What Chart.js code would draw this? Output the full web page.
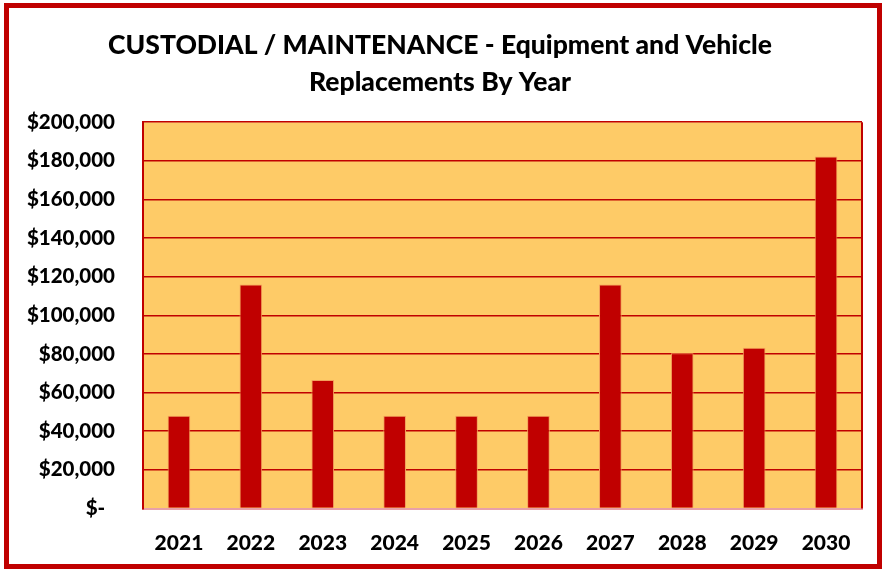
<!DOCTYPE html>
<html>
<head>
<meta charset="utf-8">
<script src="https://cdn.jsdelivr.net/npm/chart.js@4"></script>
<style>
html,body{margin:0;padding:0;background:#fff;}
#wrap{width:884px;height:571px;position:relative;}
</style>
</head>
<body>
<div id="wrap"><canvas id="c" width="884" height="571"></canvas></div>
<script>
const titleLines = ["CUSTODIAL / MAINTENANCE - Equipment and Vehicle", "Replacements By Year"];
const years = ["2021","2022","2023","2024","2025","2026","2027","2028","2029","2030"];
const replacements = [48000, 116000, 66500, 48000, 48000, 48000, 116000, 80400, 83200, 182300];
const yMin = 0, yMax = 200000, yStep = 20000;

const FONT = "Lato, 'Liberation Sans', sans-serif";
const W = '900';

const decor = {
  id: 'decor',
  beforeDraw(chart) {
    const {ctx, chartArea: a} = chart;
    ctx.save();
    ctx.fillStyle = '#FFFFFF';
    ctx.fillRect(0, 0, chart.width, chart.height);
    ctx.fillStyle = '#FECB67';
    ctx.fillRect(a.left, a.top, a.right - a.left, a.bottom - a.top);
    ctx.restore();
  },
  afterDraw(chart) {
    const {ctx, chartArea: a} = chart;
    ctx.save();
    ctx.strokeStyle = '#C00000';
    ctx.lineWidth = 2;
    ctx.beginPath();
    ctx.moveTo(a.right, a.top);
    ctx.lineTo(a.right, a.bottom);
    ctx.stroke();
    ctx.lineWidth = 5;
    ctx.strokeRect(6.5, 5.5, chart.width - 11, chart.height - 10);
    ctx.restore();
  }
};

new Chart(document.getElementById('c'), {
  type: 'bar',
  data: {
    labels: years,
    datasets: [{
      data: replacements,
      backgroundColor: '#C00000',
      borderColor: '#F2A05C',
      borderWidth: 1,
      barPercentage: 0.63,
      categoryPercentage: 0.5
    }]
  },
  options: {
    responsive: false,
    animation: false,
    devicePixelRatio: 1,
    layout: { padding: { left: 18, right: 22, top: 27, bottom: 0 } },
    plugins: {
      legend: { display: false },
      tooltip: { enabled: false },
      title: {
        display: true,
        text: titleLines,
        color: '#000',
        font: { family: FONT, size: 26.5, weight: W, lineHeight: 1.4 },
        padding: { top: 0, bottom: 21 }
      }
    },
    scales: {
      x: {
        grid: { display: false, drawTicks: false },
        border: { color: '#E8A0A8', width: 2 },
        ticks: { color: '#000', font: { family: FONT, size: 21, weight: W }, padding: 22, maxRotation: 0 },
        afterFit: s => { s.height = 62.5; }
      },
      y: {
        min: yMin, max: yMax,
        grid: { color: '#C00000', lineWidth: 1.6, drawTicks: false },
        border: { color: '#C00000', width: 2 },
        ticks: {
          stepSize: yStep,
          color: '#000',
          padding: 28,
          font: { family: FONT, size: 20.5, weight: W },
          callback: v => v === 0 ? '$-  ' : '$' + v.toLocaleString('en-US')
        },
        afterFit: s => { s.width = 125; }
      }
    }
  },
  plugins: [decor]
});
</script>
</body>
</html>
